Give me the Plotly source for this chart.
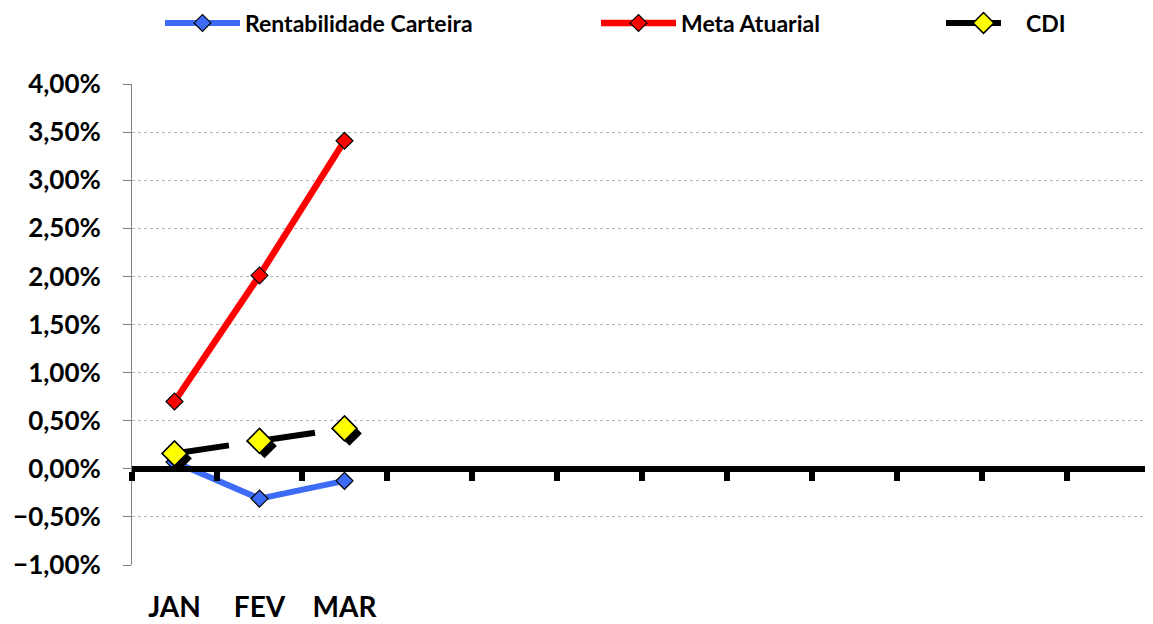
import plotly.graph_objects as go

months = ["JAN", "FEV", "MAR", "ABR", "MAI", "JUN", "JUL", "AGO", "SET", "OUT", "NOV", "DEZ"]
tick_text = ["JAN", "FEV", "MAR", "", "", "", "", "", "", "", "", ""]
rentabilidade = [0.0007, -0.0031, -0.00125]
meta_atuarial = [0.0070, 0.0201, 0.0341]
cdi = [0.0016, 0.0029, 0.0042]

# page body adds an 8px offset, so the figure is sized/positioned to compensate
W, H = 1145, 616
L, R, T, B = 124, 1, 76, 59
pw = W - L - R
ph = H - T - B
ymin, ymax = -0.01, 0.04
n = len(months)
xr = [-0.5, n - 0.5]
# pixel shift for marker shadow
sdx, sdy = 5, 5
x_per_px = (xr[1] - xr[0]) / pw
y_per_px = (ymax - ymin) / ph
xr_shadow = [xr[0] - sdx * x_per_px, xr[1] - sdx * x_per_px]
yr_shadow = [ymin + sdy * y_per_px, ymax + sdy * y_per_px]

FONT = "Lato"
BLUE = "#3D6BF5"
fig = go.Figure()

fig.add_trace(go.Scatter(
    x=months[:len(rentabilidade)], y=rentabilidade, name="Rentabilidade Carteira",
    xaxis="x", yaxis="y", mode="lines+markers", legend="legend",
    line=dict(color=BLUE, width=6),
    marker=dict(symbol="diamond", size=13, color=BLUE, line=dict(color="black", width=1.2))))
fig.add_trace(go.Scatter(
    x=months[:len(meta_atuarial)], y=meta_atuarial, name="Meta Atuarial",
    xaxis="x", yaxis="y", mode="lines+markers", legend="legend2",
    line=dict(color="#FF0000", width=6.5),
    marker=dict(symbol="diamond", size=13, color="#FF0000", line=dict(color="black", width=1.2))))
fig.add_trace(go.Scatter(
    x=months[:len(cdi)], y=cdi, name="CDI",
    xaxis="x", yaxis="y", mode="lines+markers", legend="legend3",
    line=dict(color="black", width=6, dash="55px,32px"),
    marker=dict(symbol="diamond", size=19, color="#FFFF00", line=dict(color="black", width=1.5))))
# shadow of CDI markers (shifted axes)
fig.add_trace(go.Scatter(
    x=months[:len(cdi)], y=cdi, xaxis="x2", yaxis="y2", mode="markers",
    marker=dict(symbol="diamond", size=19, color="black"),
    showlegend=False, hoverinfo="skip"))
# CDI markers on top of shadow (bottom label axis)
fig.add_trace(go.Scatter(
    x=months[:len(cdi)], y=cdi, xaxis="x3", yaxis="y3", mode="markers",
    marker=dict(symbol="diamond", size=19, color="#FFFF00", line=dict(color="black", width=1.5)),
    showlegend=False, hoverinfo="skip"))

legend_common = dict(orientation="h", xref="container", yref="container",
                     xanchor="left", yanchor="middle", y=1 - 15 / H,
                     font=dict(family=FONT, size=23, color="black", weight="bold"),
                     itemwidth=75, bgcolor="rgba(0,0,0,0)")

fig.update_layout(
    width=W, height=H,
    margin=dict(l=L, r=R, t=T, b=B, autoexpand=False),
    paper_bgcolor="white", plot_bgcolor="white",
    separators=",.",
    font=dict(family=FONT, color="black"),
    showlegend=True,
    legend=dict(legend_common, x=152 / W, entrywidth=340, entrywidthmode="pixels"),
    legend2=dict(legend_common, x=588 / W, entrywidth=260, entrywidthmode="pixels"),
    legend3=dict(legend_common, x=933 / W, entrywidth=160, entrywidthmode="pixels"),
    xaxis=dict(type="category", categoryorder="array", categoryarray=months,
               range=xr, anchor="free", position=(0 - ymin) / (ymax - ymin),
               showline=True, linecolor="black", linewidth=6,
               ticks="outside", tickson="boundaries", ticklen=9, tickwidth=6,
               tickcolor="black", showticklabels=False, showgrid=False, zeroline=False),
    yaxis=dict(range=[ymin, ymax], dtick=0.005, tickformat=".2%", anchor="x",
               showline=True, linecolor="#7f7f7f", linewidth=1,
               ticks="outside", ticklen=8, tickcolor="#7f7f7f", tickwidth=1,
               showgrid=True, gridcolor="#b4b4b4", gridwidth=1, griddash="dot",
               zeroline=False, ticklabelstandoff=17,
               tickfont=dict(family=FONT, size=26, color="black", weight="bold")),
    xaxis2=dict(type="category", categoryorder="array", categoryarray=months,
                overlaying="x", anchor="y2", range=xr_shadow, visible=False),
    yaxis2=dict(overlaying="y", anchor="x2", range=yr_shadow, visible=False),
    xaxis3=dict(type="category", categoryorder="array", categoryarray=months,
                overlaying="x", anchor="y3", range=xr, tickvals=months, ticktext=tick_text,
                showline=False, showgrid=False, zeroline=False, ticks="",
                ticklabelstandoff=23,
                tickfont=dict(family=FONT, size=28, color="black", weight="bold")),
    yaxis3=dict(overlaying="y", anchor="x3", range=[ymin, ymax], visible=False),
)

fig.write_html("out.html")
